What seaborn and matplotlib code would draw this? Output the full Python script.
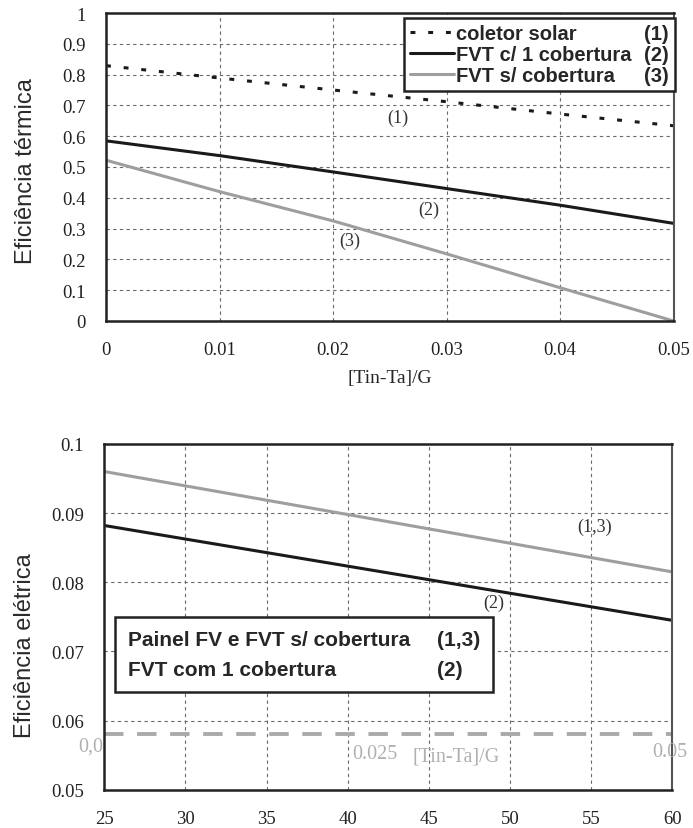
import matplotlib
matplotlib.use("Agg")
import matplotlib.pyplot as plt
import seaborn as sns
import pandas as pd
from matplotlib.lines import Line2D

# ---------------------------------------------------------------------------
# Data
# ---------------------------------------------------------------------------
# top panel: thermal efficiency vs [Tin-Ta]/G
x_termico = [0.0, 0.01, 0.02, 0.03, 0.04, 0.05]
ef_coletor = [0.829, 0.789, 0.750, 0.712, 0.672, 0.634]
ef_fvt_cob = [0.585, 0.537, 0.484, 0.430, 0.376, 0.317]
ef_fvt_sem = [0.522, 0.420, 0.325, 0.218, 0.108, 0.0]

# bottom panel: electrical efficiency vs temperature
temp = [25, 60]
ef_el_fv = [0.0960, 0.0815]     # painel FV e FVT s/ cobertura (1,3)
ef_el_fvt = [0.0882, 0.0745]    # FVT com 1 cobertura (2)
ghost_y = 0.0581                # faded axis of an underlying figure

term_ticks_x = [0, 0.01, 0.02, 0.03, 0.04, 0.05]
term_ticks_y = [0, 0.1, 0.2, 0.3, 0.4, 0.5, 0.6, 0.7, 0.8, 0.9, 1]
el_ticks_x = [25, 30, 35, 40, 45, 50, 55, 60]
el_ticks_y = [0.05, 0.06, 0.07, 0.08, 0.09, 0.1]

df_term = pd.DataFrame({"x": x_termico, "c1": ef_coletor, "c2": ef_fvt_cob, "c3": ef_fvt_sem})
df_el = pd.DataFrame({"t": temp, "fv": ef_el_fv, "fvt": ef_el_fvt})

# ---------------------------------------------------------------------------
sns.set_style("white")
plt.rcParams["font.family"] = ["Liberation Serif", "DejaVu Serif"]

BLACK = "#1a1a1a"
GRAY = "#9e9e9e"
SANS = ["Liberation Sans", "DejaVu Sans"]
TICK_FS = 13.5

fig = plt.figure(figsize=(6.93, 8.29), dpi=100)
ax1 = fig.add_axes([0.1530, 0.6116, 0.8190, 0.3715])
ax2 = fig.add_axes([0.1505, 0.0460, 0.8195, 0.4174])


def style_axes(ax, pad_x, pad_y):
    ax.grid(True, color="#6a6a6a", linestyle=(0, (3, 3)), linewidth=0.8)
    for side in ["left", "bottom", "top"]:
        ax.spines[side].set_linewidth(1.8)
        ax.spines[side].set_color("#222222")
    ax.spines["right"].set_linewidth(1.5)
    ax.spines["right"].set_color("#555555")
    ax.tick_params(axis="both", direction="inout", length=7, width=1.5,
                   colors="#222222", labelsize=TICK_FS)
    ax.tick_params(axis="x", pad=pad_x)
    ax.tick_params(axis="y", pad=pad_y)
    ax.set_axisbelow(True)


# --- top panel -------------------------------------------------------------
sns.lineplot(data=df_term, x="x", y="c1", ax=ax1, color=BLACK, linewidth=2.2,
             linestyle=(0, (1.6, 4.2)))
sns.lineplot(data=df_term, x="x", y="c2", ax=ax1, color=BLACK, linewidth=2.2)
sns.lineplot(data=df_term, x="x", y="c3", ax=ax1, color=GRAY, linewidth=2.2)

ax1.set_xlim(0, 0.05)
ax1.set_ylim(0, 1)
ax1.set_xticks(term_ticks_x)
ax1.set_xticklabels(["0", "0.01", "0.02", "0.03", "0.04", "0.05"])
ax1.set_yticks(term_ticks_y)
ax1.set_yticklabels(["0", "0.1", "0.2", "0.3", "0.4", "0.5", "0.6", "0.7", "0.8", "0.9", "1"])
style_axes(ax1, pad_x=11, pad_y=11)
ax1.set_xlabel("[Tin-Ta]/G", fontsize=14, labelpad=8)
ax1.set_ylabel("Eficiência térmica", fontsize=17, family=SANS, color="#2a2a2a")
ax1.yaxis.set_label_coords(-0.122, 0.49)

ax1.text(0.0257, 0.662, "(1)", ha="center", va="center", fontsize=13, color="#333333")
ax1.text(0.0284, 0.364, "(2)", ha="center", va="center", fontsize=13, color="#333333")
ax1.text(0.0215, 0.263, "(3)", ha="center", va="center", fontsize=13, color="#333333")

empty = Line2D([], [], linestyle="none")
h1 = Line2D([], [], color=BLACK, linewidth=2.2, linestyle=(0, (1.6, 4.2)))
h2 = Line2D([], [], color=BLACK, linewidth=2.2)
h3 = Line2D([], [], color=GRAY, linewidth=2.2)
leg1 = ax1.legend([h1, h2, h3, empty, empty, empty],
                  ["coletor solar", "FVT c/ 1 cobertura", "FVT s/ cobertura", "(1)", "(2)", "(3)"],
                  ncol=2, loc="upper right", bbox_to_anchor=(1.002, 0.984), borderaxespad=0,
                  prop={"family": SANS, "weight": "bold", "size": 14.5},
                  handlelength=2.2, handletextpad=0.1, columnspacing=-1.7,
                  labelspacing=0.1, borderpad=0.3, fancybox=False, framealpha=1)
leg1.get_frame().set_edgecolor("#222222")
leg1.get_frame().set_linewidth(1.8)

# --- bottom panel ----------------------------------------------------------
sns.lineplot(data=df_el, x="t", y="fv", ax=ax2, color=GRAY, linewidth=2.2)
sns.lineplot(data=df_el, x="t", y="fvt", ax=ax2, color=BLACK, linewidth=2.2)

ax2.axhline(ghost_y, color="#aaaaaa", linewidth=2.8, linestyle=(0, (5, 3.5)), zorder=1)
ghost = dict(fontsize=14.5, color="#b0b0b0", va="center")
ax2.text(24.95, 0.0563, "0,0", ha="right", **ghost)
ax2.text(40.3, 0.0553, "0.025", ha="left", **ghost)
ax2.text(44.0, 0.0549, "[Tin-Ta]/G", ha="left", **ghost)
ax2.text(58.8, 0.0555, "0.05", ha="left", **ghost)

ax2.set_xlim(25, 60)
ax2.set_ylim(0.05, 0.1)
ax2.set_xticks(el_ticks_x)
ax2.set_yticks(el_ticks_y)
ax2.set_yticklabels(["0.05", "0.06", "0.07", "0.08", "0.09", "0.1"])
style_axes(ax2, pad_x=11, pad_y=11)
ax2.set_xlabel("")
ax2.set_ylabel("Eficiência elétrica", fontsize=17, family=SANS, color="#2a2a2a")
ax2.yaxis.set_label_coords(-0.120, 0.42)

ax2.text(55.2, 0.0881, "(1,3)", ha="center", va="center", fontsize=13, color="#333333")
ax2.text(49.0, 0.0771, "(2)", ha="center", va="center", fontsize=13, color="#333333")

leg2 = ax2.legend([empty, empty, empty, empty],
                  ["Painel FV e FVT s/ cobertura", "FVT com 1 cobertura", "(1,3)", "(2)"],
                  ncol=2, loc="upper left", bbox_to_anchor=(0.0194, 0.499), borderaxespad=0,
                  prop={"family": SANS, "weight": "bold", "size": 15},
                  handlelength=0, handletextpad=0, columnspacing=1.3,
                  labelspacing=0.55, borderpad=0.6, fancybox=False, framealpha=1)
leg2.get_frame().set_edgecolor("#222222")
leg2.get_frame().set_linewidth(1.8)

fig.savefig("out.png", dpi=100)
plt.close(fig)
